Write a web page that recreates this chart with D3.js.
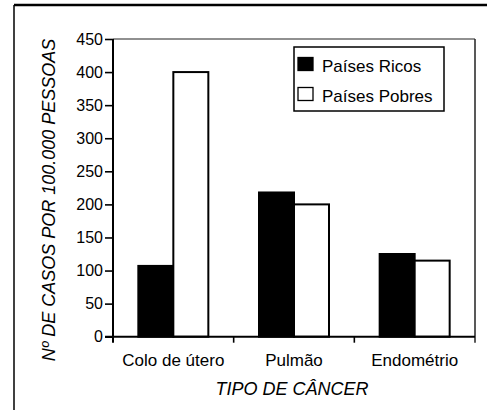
<script src="https://d3js.org/d3.v7.min.js"></script>

<style>
  body { margin: 0; background: #fff; }
  text { font-family: "Liberation Sans", Arial, sans-serif; fill: #000; }
</style>

<div id="container"></div>

<script>
var categories = ["Colo de útero", "Pulmão", "Endométrio"];
var series = ["Países Ricos", "Países Pobres"];
var ricos = [107, 218, 125];
var pobres = [400, 200, 115];
var yTicks = [0, 50, 100, 150, 200, 250, 300, 350, 400, 450];

var data = categories.map(function (c, i) {
  return { cat: c, values: [ricos[i], pobres[i]] };
});

var svg = d3.select("#container").append("svg")
  .attr("width", 487)
  .attr("height", 410);

// outer frame (only top and left visible)
svg.append("line").attr("x1", 14).attr("x2", 487).attr("y1", 5).attr("y2", 5)
  .attr("stroke", "#000").attr("stroke-width", 2.5);
svg.append("line").attr("x1", 14).attr("x2", 14).attr("y1", 5).attr("y2", 410)
  .attr("stroke", "#000").attr("stroke-width", 1.5);

var plotLeft = 113, plotRight = 475, plotTop = 39;

var yscale = d3.scaleLinear().domain([0, 450]).range([336.7, plotTop]);
var xscale = d3.scaleBand().domain(categories).range([plotLeft, plotRight]);
var sub = d3.scaleBand().domain(series)
  .range([xscale.bandwidth() / 2 - 35, xscale.bandwidth() / 2 + 35]);

var y0 = yscale(0);

// plot frame top and right
svg.append("line").attr("x1", plotLeft).attr("x2", plotRight).attr("y1", plotTop).attr("y2", plotTop)
  .attr("stroke", "#222").attr("stroke-width", 1.2);
svg.append("line").attr("x1", plotRight).attr("x2", plotRight).attr("y1", plotTop).attr("y2", y0 + 6)
  .attr("stroke", "#222").attr("stroke-width", 1.5);

// bars
var groups = svg.append("g").selectAll("g")
  .data(data)
  .enter()
  .append("g")
    .attr("transform", function (d) { return "translate(" + xscale(d.cat) + ",0)"; });

groups.selectAll("rect")
  .data(function (d) { return d.values.map(function (v, i) { return { s: series[i], v: v }; }); })
  .enter()
  .append("rect")
    .attr("x", function (d) { return sub(d.s); })
    .attr("y", function (d) { return yscale(d.v); })
    .attr("width", sub.bandwidth())
    .attr("height", function (d) { return y0 - yscale(d.v); })
    .attr("fill", function (d) { return d.s == series[0] ? "#000" : "#fff"; })
    .attr("stroke", "#000")
    .attr("stroke-width", 2);

// y axis
var yAxis = svg.append("g")
  .attr("transform", "translate(" + plotLeft + ",0)")
  .call(d3.axisLeft(yscale).tickValues(yTicks).tickSize(8).tickSizeOuter(0).tickPadding(2));
yAxis.select(".domain").remove();
yAxis.selectAll("line").attr("stroke", "#000").attr("stroke-width", 1.6);
yAxis.selectAll("text").style("font-size", "16px").attr("fill", "#000");

svg.append("line").attr("x1", plotLeft).attr("x2", plotLeft).attr("y1", plotTop).attr("y2", y0 + 6)
  .attr("stroke", "#000").attr("stroke-width", 2);

// x axis
var xAxis = svg.append("g")
  .attr("transform", "translate(0," + y0 + ")")
  .call(d3.axisBottom(xscale).tickSize(0).tickPadding(17));
xAxis.select(".domain").remove();
xAxis.selectAll("text").style("font-size", "17px").attr("fill", "#000");

svg.append("line").attr("x1", plotLeft - 8).attr("x2", plotRight).attr("y1", y0).attr("y2", y0)
  .attr("stroke", "#000").attr("stroke-width", 2);

svg.append("g").selectAll("line")
  .data(categories.slice(1))
  .enter()
  .append("line")
    .attr("x1", function (d) { return xscale(d); })
    .attr("x2", function (d) { return xscale(d); })
    .attr("y1", y0)
    .attr("y2", y0 + 6)
    .attr("stroke", "#000")
    .attr("stroke-width", 1.6);

// axis titles
svg.append("text")
  .attr("transform", "translate(55,200) rotate(-90)")
  .style("text-anchor", "middle")
  .style("font-size", "18px")
  .style("font-style", "italic")
  .text("Nº DE CASOS POR 100.000 PESSOAS");

svg.append("text")
  .attr("x", 292)
  .attr("y", 395)
  .style("text-anchor", "middle")
  .style("font-size", "18px")
  .style("font-style", "italic")
  .text("TIPO DE CÂNCER");

// legend
var legend = svg.append("g").attr("transform", "translate(294,47)");
legend.append("rect")
  .attr("width", 150).attr("height", 64)
  .attr("fill", "#fff").attr("stroke", "#000").attr("stroke-width", 1.5);

var items = legend.selectAll(".item")
  .data(series)
  .enter()
  .append("g")
    .attr("transform", function (d, i) { return "translate(0," + (i * 30) + ")"; });

items.append("rect")
  .attr("x", 4).attr("y", 10.5)
  .attr("width", 15).attr("height", 13)
  .attr("fill", function (d, i) { return i == 0 ? "#000" : "#fff"; })
  .attr("stroke", "#000").attr("stroke-width", 1.3);

items.append("text")
  .attr("x", 28).attr("y", 25)
  .style("font-size", "17px")
  .text(function (d) { return d; });
</script>
